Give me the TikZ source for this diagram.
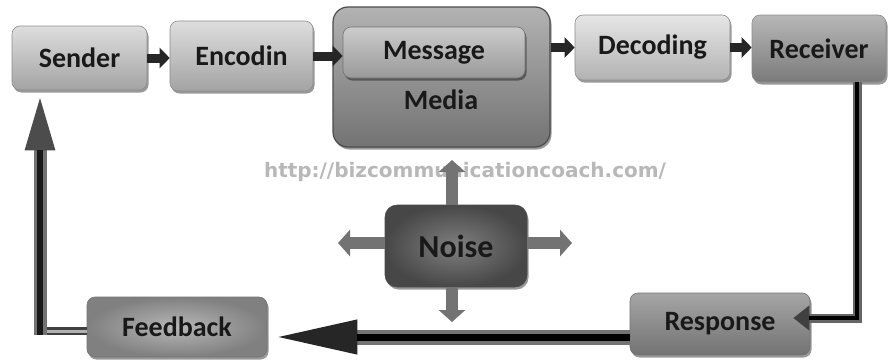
\documentclass[tikz,border=0pt]{standalone}
\usepackage{fontspec}
\setmainfont{Carlito}
\newfontfamily\urlfont{DejaVu Sans}
\usetikzlibrary{arrows.meta,shadows}

\tikzset{
  lbl/.style={font=\fontsize{28}{30}\selectfont\bfseries, text=black!90},
  stage/.style={lbl, rounded corners=8pt, draw=black!45, line width=0.6pt, inner sep=0pt,
    drop shadow={shadow xshift=1.5pt, shadow yshift=-2.5pt, opacity=0.4, fill=black}},
  lightbox/.style={stage, top color=black!13, bottom color=black!36},
  midbox/.style={stage, top color=black!28, bottom color=black!52},
  flowarrow/.style={line width=9pt, draw=black!85, -{Triangle[length=10pt,width=20pt]}},
  noisearrow/.style={line width=12pt, draw=black!55, -{Triangle[length=12pt,width=26pt]}},
}

\begin{document}
\begin{tikzpicture}[x=1pt,y=-1pt]
\useasboundingbox[fill=white] (0,0) rectangle (894,359);

% top row of stages
\node[lightbox, minimum width=135pt, minimum height=64pt] (sender) at (79.5,58) {Sender};
\node[lightbox, minimum width=143pt, minimum height=70pt] (encoder) at (241.5,56) {Encodin};
\node[stage, rounded corners=15pt, draw=black!70, line width=1.2pt, top color=black!30, bottom color=black!55,
      minimum width=217pt, minimum height=140pt] (media) at (441.5,77) {};
\node[stage, draw=black!55, top color=black!20, bottom color=black!40,
      minimum width=182pt, minimum height=51pt] (message) at (434,52.5) {Message};
\node[lbl] (medialbl) at (441,100) {Media};
\node[lightbox, top color=black!10, bottom color=black!30, minimum width=155pt, minimum height=65pt] (decoder) at (652.5,47.5) {Decoding};
\node[midbox, minimum width=134pt, minimum height=67pt] (receiver) at (819,48.5) {Receiver};

% watermark
\node[font=\urlfont\bfseries\fontsize{20}{22}\selectfont, text=black!28] (url) at (465,172) {http://bizcommunicationcoach.com/};

% noise and its four outward arrows
\coordinate (nup) at (452,160);
\coordinate (ndown) at (452,322);
\coordinate (nleft) at (338,243);
\coordinate (nright) at (572,243);
\node[stage, rounded corners=12pt, draw=black!70, inner color=black!50, outer color=black!72,
      font=\fontsize{32}{34}\selectfont\bfseries, minimum width=142pt, minimum height=82pt] (noise) at (456,246) {Noise};
\draw[noisearrow] (noise.north -| nup) -- (nup);
\draw[noisearrow] (noise.south -| ndown) -- (ndown);
\draw[noisearrow] (noise.west |- nleft) -- (nleft);
\draw[noisearrow] (noise.east |- nright) -- (nright);

% bottom row
\node[stage, draw=black!55, inner color=black!28, outer color=black!50,
      minimum width=180pt, minimum height=60pt] (feedback) at (177,327) {Feedback};
\node[stage, draw=black!55, top color=black!35, bottom color=black!55,
      minimum width=180pt, minimum height=62pt] (response) at (720,324) {Response};

% forward flow
\draw[flowarrow] (sender.east) -- (sender.east -| encoder.west);
\draw[flowarrow] (encoder.east) -- (encoder.east -| message.west);
\draw[flowarrow] (decoder.west -| media.east) -- (decoder.west);
\draw[flowarrow] (decoder.east) -- (decoder.east -| receiver.west);

% receiver down to response
\coordinate (rcorner) at (857,318);
\draw[line width=9pt, draw=black!60, -{Triangle[length=16pt,width=24pt,color=black!75]}]
  ([xshift=38pt]receiver.south) -- (rcorner) -- ([xshift=-17pt,yshift=6pt]response.east);
\draw[line width=3.5pt, draw=black, shorten >=16pt]
  ([xshift=38pt]receiver.south) -- (rcorner) -- ([xshift=-17pt,yshift=6pt]response.east);

% response to feedback
\draw[line width=15pt, draw=black!55, -{Triangle[length=90pt,width=30pt,color=black!85]}]
  ([yshift=-13pt]response.west) -- ([yshift=-10pt]feedback.east);
\draw[line width=7pt, draw=black, shorten >=90pt]
  ([yshift=-13pt]response.west) -- ([yshift=-10pt]feedback.east);

% feedback back up to sender
\coordinate (fcorner) at (40,331);
\draw[line width=8pt, draw=black!75] ([yshift=-4pt]feedback.west) -- (fcorner);
\draw[line width=3pt, draw=black!30] ([yshift=-4pt]feedback.west) -- ([xshift=3pt]fcorner);
\draw[line width=13pt, draw=black!55, -{Triangle[length=60pt,width=26pt,color=black!70]}]
  ([yshift=-4pt]fcorner) -- ([xshift=-39.5pt]sender.south);
\draw[line width=6pt, draw=black!90, shorten >=60pt]
  ([yshift=-4pt]fcorner) -- ([xshift=-39.5pt]sender.south);
\end{tikzpicture}
\end{document}
